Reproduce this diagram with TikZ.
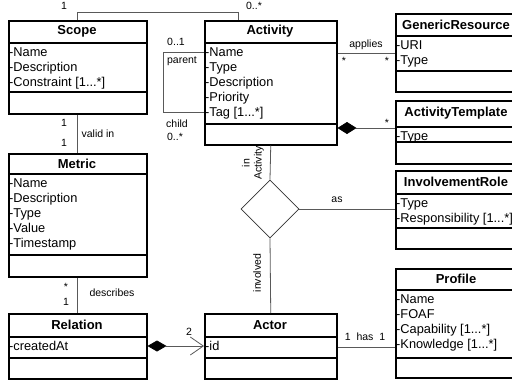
\documentclass[tikz,border=0pt]{standalone}
\usepackage{fontspec}
\setmainfont{Liberation Sans}
\usetikzlibrary{arrows.meta, calc, shapes.geometric}
\tikzset{
  class box/.style={
    draw,
    line width=1.5pt,
    inner sep=0pt,
    anchor=north west,
  },
  class title/.style={font=\fontsize{13}{15}\selectfont\bfseries},
  class attrs/.style={
    align=left,
    anchor=north west,
    inner xsep=1pt,
    inner ysep=4pt,
    font=\fontsize{12.8}{15}\selectfont,
  },
  assoc/.style={draw=black!65, line width=0.8pt},
  role/.style={font=\fontsize{10.5}{12}\selectfont, inner sep=0pt},
  link diamond/.style={
    diamond,
    draw=black!80,
    line width=0.8pt,
    minimum width=58pt,
    minimum height=58pt,
    inner sep=0pt,
  },
  whole/.style={{Diamond[length=19pt, width=12pt, color=black]}-},
}
% #1 name, #2/#3 top left, #4 width, #5/#6/#7 y of title line, attribute line, bottom
\newcommand{\umlclass}[9]{%
  \node[class box, minimum width=#4pt, minimum height={(#7-#3)*1pt}] (#1) at (#2,#3) {};
  \draw[line width=1.5pt] (#2,#5) -- ++(#4,0);
  \draw[line width=1.5pt] (#2,#6) -- ++(#4,0);
  \node[class title] (#1 title) at ($(#2,#3)!0.5!(#2+#4,#5)$) {#8};
  \node[class attrs] (#1 attrs) at (#2,#5) {#9};
}

\begin{document}
\begin{tikzpicture}[x=1pt, y=-1pt]
  \useasboundingbox (0,0) rectangle (512,381);

  \umlclass{scope}{8}{20}{138}{43}{92}{113}{Scope}{-Name\\-Description\\-Constraint [1...*]}
  \umlclass{activity}{204}{20}{132}{43}{124}{144}{Activity}{-Name\\-Type\\-Description\\-Priority\\-Tag [1...*]}
  \umlclass{generic}{395}{13}{122}{36}{71}{91}{GenericResource}{-URI\\-Type}
  \umlclass{template}{395}{100}{122}{127}{142}{163}{ActivityTemplate}{-Type}
  \umlclass{invrole}{395}{170}{122}{194}{228}{248}{InvolvementRole}{-Type\\-Responsibility [1...*]}
  \umlclass{metric}{8}{153}{138}{174}{255}{276}{Metric}{-Name\\-Description\\-Type\\-Value\\-Timestamp}
  \umlclass{relation}{8}{313}{138}{337}{358}{378}{Relation}{-createdAt}
  \umlclass{actor}{204}{313}{132}{337}{358}{378}{Actor}{-id}
  \umlclass{profile}{395}{268}{122}{290}{358}{377}{Profile}{-Name\\-FOAF\\-Capability [1...*]\\-Knowledge [1...*]}

  \node[link diamond] (involvement) at (270,209) {};

  % scope -- activity
  \coordinate (top link) at ($(activity.north west)+(34,0)$);
  \draw[assoc] (scope.north) -- ++(0,-8) -| (top link);
  \node[role] (scope one) at (64,6) {1};
  \node[role] (scope many) at (254,6) {0..*};

  % parent / child
  \draw[assoc] ($(activity.north west)+(0,32)$) -| ++(-41,60) -- ++(41,0);
  \node[role] (parent mult) at (176,42) {0..1};
  \node[role] (parent) at (182,61) {parent};
  \node[role] (child) at (177,124) {child};
  \node[role] (child mult) at (175,137) {0..*};

  % applies
  \draw[assoc] ($(activity.north east)+(0,33)$) coordinate (applies) -- (applies -| generic.west);
  \node[role] (applies label) at (366,45) {applies};
  \node[role] (applies a) at (344,61) {*};
  \node[role] (applies b) at (387,61) {*};

  % template
  \draw[assoc, whole] ($(activity.north east)+(0,108)$) coordinate (tmpl) -- (tmpl -| template.west);
  \node[role] (tmpl many) at (387,123) {*};

  % involvement
  \draw[assoc] (activity.south) -- (involvement.north);
  \draw[assoc] (involvement.east) -- (involvement.east -| invrole.west);
  \draw[assoc] (involvement.south) -- (actor.north);
  \node[role, rotate=90, align=center] (in activity) at (253,163) {in\\Activity};
  \node[role, rotate=90] (involved) at (257,273) {involved};
  \node[role] (as) at (337,200) {as};

  % scope -- metric -- relation
  \draw[assoc] (scope.south) -- (metric.north);
  \node[role] (valid a) at (64,123) {1};
  \node[role] (valid b) at (64,143) {1};
  \node[role] (valid in) at (98,134) {valid in};
  \draw[assoc] (metric.south) -- (relation.north);
  \node[role] (desc a) at (66,287) {*};
  \node[role] (desc b) at (66,302) {1};
  \node[role] (describes) at (112,293) {describes};

  % relation -- actor
  \draw[assoc, {Diamond[length=19pt, width=11pt, color=black]}-{Straight Barb[length=13pt, width=18pt]}] ($(relation.north east)+(0,33)$) coordinate (rel) -- (rel -| actor.west);
  \node[role] (two) at (189,332) {2};

  % actor -- profile
  \draw[assoc] ($(actor.north east)+(0,34)$) coordinate (has) -- (has -| profile.west);
  \node[role] (has label) at (365,337) {1~~has~~1};
\end{tikzpicture}
\end{document}
